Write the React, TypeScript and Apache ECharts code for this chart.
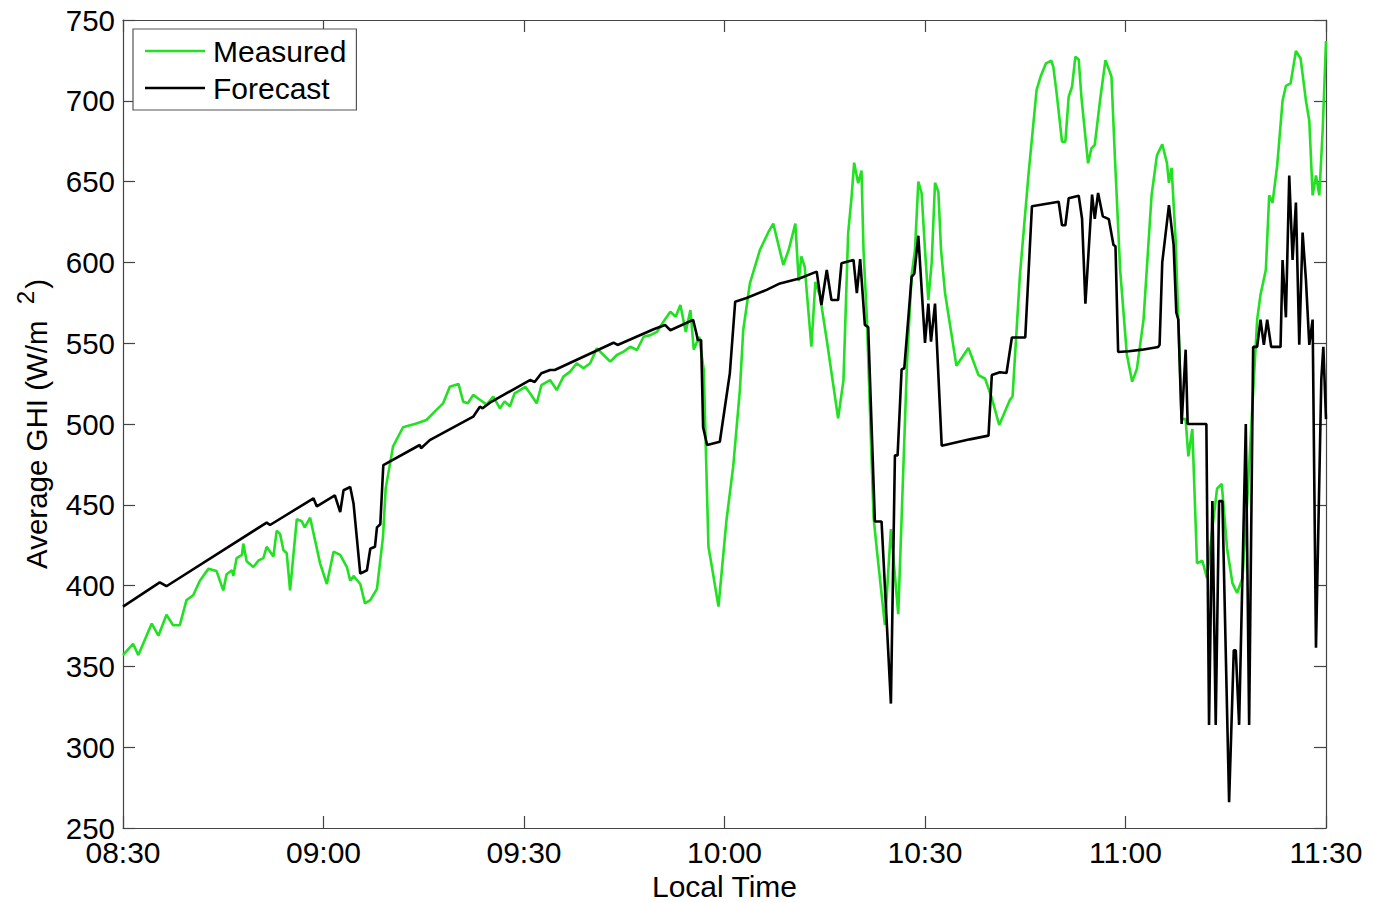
import React, { useEffect, useRef } from "react";
import * as echarts from "echarts";

// minutes after 08:30
const measuredTime = [
  0, 1.5, 2.3, 4.3, 5.3, 6.5, 7.5, 8.5, 9.5, 10.5, 11.5, 12.8, 14, 15, 15.5, 16.3, 16.5, 17, 17.8, 18,
  18.5, 19.5, 20.3, 21, 21.5, 22.5, 23, 23.5, 24, 24.5, 25, 26, 26.7, 27.2, 28, 29.5, 30.5, 31.5, 32.5, 33.5,
  34, 34.5, 35.5, 36.2, 37, 38, 38.9, 39.3, 40.4, 41.9, 43.9, 45.4, 46.9, 47.9, 48.9, 50.2, 50.9, 51.6, 52.4, 53.4,
  54.4, 55.4, 56.4, 57.1, 57.9, 58.6, 59.4, 60.2, 60.9, 61.9, 62.6, 63.9, 64.9, 65.9, 66.9, 67.9, 68.9, 69.9, 70.9, 71.9,
  72.9, 73.9, 74.9, 75.9, 76.9, 77.9, 78.9, 79.9, 80.7, 81.9, 82.7, 83.4, 84.2, 84.9, 85.4, 86.2, 86.9, 87.3, 87.6, 88.1,
  89.1, 90.3, 91.3, 92.3, 92.8, 93.8, 95.3, 96.6, 97.3, 98.8, 99.6, 100.6, 101.1, 101.5, 102, 103, 103.6, 104.3, 105.3, 107,
  107.8, 108.5, 109.0, 109.4, 110.0, 110.5, 110.8, 111.3, 112.3, 112.8, 114.0, 114.9, 116.0, 117.3, 118.0, 118.5, 119.0, 119.5, 120.0, 120.5,
  121.0, 121.5, 122.0, 122.4, 123.0, 124.7, 126.5, 128.0, 129.0, 130.0, 131.1, 132.7, 133.1, 134.2, 135.5, 136.7, 137.3, 138.1, 138.9, 139.2,
  139.7, 140.5, 141.0, 141.5, 142.0, 142.5, 143.0, 143.4, 144.4, 144.9, 145.4, 146.2, 147.0, 147.9, 148.4, 149.2, 150.2, 151.0, 151.7, 152.7,
  153.9, 154.7, 155.5, 156.2, 156.5, 156.9, 157.5, 158.4, 159.0, 159.4, 160.0, 160.7, 161.5, 162.2, 163.0, 163.7, 164.4, 165.2, 166.0, 166.7,
  167.5, 168.2, 169.0, 169.7, 170.2, 171.0, 171.5, 172.0, 172.7, 173.5, 174.0, 174.7, 175.5, 176.2, 177.0, 177.5, 178.0, 178.5, 179.0, 179.5,
  180,
];
const measuredValue = [
  357, 364, 357, 376.5, 369, 382, 375.5, 375.5, 391, 394, 403, 410.5, 409, 397, 407, 409.5, 406, 417, 419, 426,
  415, 411.5, 415.6, 417, 424, 418, 434, 432, 422, 420, 397, 441, 440, 436, 442, 413.6, 401, 421, 419, 411.5,
  403, 406, 401, 389, 391, 398, 430, 460, 486, 498, 500.3, 502.5, 508.7, 512.8, 523, 524.8, 513.8, 512.8, 518, 515,
  512, 517, 509.7, 514, 511, 519, 521, 523, 519, 512.8, 524, 527.2, 521, 529.3, 532.4, 537.6, 534.5, 537.6, 546.8, 542.7,
  538.6, 542.7, 544.8, 547.8, 545.8, 554, 555, 557, 562.3, 569.5, 566.4, 573.6, 557, 570.5, 546, 554, 533.4, 470, 424, 412,
  387, 440.6, 473.6, 521, 558, 587, 607.7, 619, 624, 598.4, 607.7, 624, 588.6, 603.7, 597.3, 547.8, 588, 579, 552, 503.5,
  527, 618, 640, 661.7, 649, 656.8, 607.7, 565.6, 442.6, 422, 375.6, 435, 382.3, 537, 592, 607.7, 650, 642.8, 607.7, 576.7,
  600, 649.3, 643.8, 607.7, 581, 536, 547, 530.3, 528, 516, 499.4, 514.9, 517, 592, 655, 706.7, 715, 723.2, 724.8, 721,
  704.6, 674.7, 674.7, 702.5, 708.7, 727.3, 725.6, 702.5, 661.3, 670.6, 672.7, 700.5, 725.2, 715, 666.2, 595.4, 543, 526.2, 534, 564.6,
  641.5, 666.2, 673, 661.5, 649.2, 658.5, 613.8, 503, 503, 480, 496.9, 413.8, 415.4, 404.6, 435.4, 460, 463, 423, 401.5, 395.4,
  404.6, 450.8, 512.3, 564.6, 580, 595.4, 641.5, 636.9, 660, 700, 709.2, 710.8, 730.8, 726.2, 700, 687.7, 641.5, 653.8, 641.5, 681.5,
  737,
];

const forecastTime = [
  0, 5.5, 6.5, 21.5, 22, 28.5, 29, 31.7, 32.5, 33, 34, 34.5, 35.5, 36.5, 37, 37.7, 38, 38.5, 38.95, 44.4,
  44.6, 45.9, 52.4, 53.4, 53.8, 54.9, 60.9, 61.6, 62.6, 63.9, 64.6, 73.4, 74, 79.4, 81.1, 81.9, 85.3, 85.8, 86, 86.5,
  86.8, 87.4, 89.3, 90.8, 91.6, 93.3, 96.3, 98.3, 101.2, 103.8, 104.5, 105.3, 106, 107, 107.5, 109.3, 109.8, 110.3, 111.0, 111.5,
  112.5, 113.5, 114.9, 115.5, 115.9, 116.5, 116.9, 118.0, 118.4, 119.0, 120.0, 120.5, 120.9, 121.5, 122.5, 126.7, 129.5, 130.0, 131.2, 132.2,
  133.0, 135.0, 136.0, 140.0, 140.5, 141.0, 141.5, 143.0, 143.5, 144.0, 145.0, 145.4, 145.9, 146.6, 147.5, 148.2, 148.5, 148.9, 150.5, 152.5,
  154.9, 155.1, 155.5, 156.5, 157.2, 157.6, 157.9, 158.4, 159.0, 159.3, 162.1, 162.5, 163.0, 163.5, 164.0, 164.5, 165.5, 166.2, 166.5, 167.0,
  168.0, 168.5, 169.1, 169.7, 170.2, 170.7, 171.2, 171.8, 173.2, 173.5, 174.0, 174.5, 175.0, 175.5, 176.0, 176.5, 177.0, 177.5, 178.0, 178.5,
  179.3, 179.6, 180,
];
const forecastValue = [
  387, 402, 399.6, 439, 437.5, 454, 449, 455.8, 445.5, 459, 461, 450.6, 407.4, 409.5, 422.8, 424, 436, 438, 474.6, 487,
  485, 490, 504.5, 510.7, 509.7, 513.2, 527.2, 526, 531.4, 533.4, 533.4, 550.3, 548.9, 558.6, 561.3, 558, 564.4, 556, 552, 552,
  498, 487, 489, 531.4, 575.7, 578, 583, 587, 590, 594.3, 573.6, 595.3, 576.7, 576.7, 599.4, 601.5, 581, 602, 561.3, 560,
  439.7, 439.7, 327, 480.6, 480.6, 533.7, 534.5, 591, 593, 616.5, 550.2, 574.5, 551, 574.5, 486.6, 490.5, 492.8, 530.3, 532, 531.6,
  553.5, 553.5, 634.7, 637.5, 623, 623, 639.7, 641.3, 627, 574.5, 642, 627, 643, 628.5, 626.8, 610.8, 610, 544.6, 545, 546,
  547.7, 549, 600, 635.4, 610.8, 569, 564.6, 500, 546, 500, 500, 313.8, 452.3, 313.8, 452.3, 452.3, 266, 360, 360, 313.8,
  500, 313.8, 547.7, 547.7, 564.6, 549, 564.6, 547.7, 547.7, 601.5, 566, 653.8, 601.5, 637, 549, 618.5, 589, 549, 564.6, 361.5,
  527.7, 547.7, 503,
];

const xTickMinutes = [0, 30, 60, 90, 120, 150, 180];
const xTickLabels = ["08:30", "09:00", "09:30", "10:00", "10:30", "11:00", "11:30"];
const seriesNames = ["Measured", "Forecast"];

const FONT = "'Liberation Sans', Arial, Helvetica, sans-serif";

export default function App() {
  const ref = useRef<HTMLDivElement>(null);
  useEffect(() => {
    if (!ref.current) return;
    const chart = echarts.init(ref.current, undefined, { renderer: "svg" });
    const measured = measuredTime.map((t, i) => [t, measuredValue[i]]);
    const forecast = forecastTime.map((t, i) => [t, forecastValue[i]]);
    const axisColor = "#444";
    const fmt = (v: number) => {
      const idx = xTickMinutes.indexOf(v);
      return idx >= 0 ? xTickLabels[idx] : "";
    };
    const xBase = {
      type: "value" as const,
      min: 0,
      max: 180,
      interval: 30,
      splitLine: { show: false },
      axisLine: { show: true, onZero: false, lineStyle: { color: axisColor, width: 1.2 } },
      axisTick: { show: true, inside: true, length: 12, lineStyle: { color: axisColor, width: 1.2 } },
    };
    const yBase = {
      type: "value" as const,
      min: 250,
      max: 750,
      interval: 50,
      splitLine: { show: false },
      axisLine: { show: true, onZero: false, lineStyle: { color: axisColor, width: 1.2 } },
      axisTick: { show: true, inside: true, length: 12, lineStyle: { color: axisColor, width: 1.2 } },
    };
    chart.setOption({
      animation: false,
      backgroundColor: "#fff",
      textStyle: { fontFamily: FONT },
      grid: { left: 123, right: 47, top: 20, bottom: 74, containLabel: false, outerBoundsMode: "none" },
      legend: {
        show: true,
        data: seriesNames,
        orient: "vertical",
        left: 133,
        top: 29,
        icon: "rect",
        backgroundColor: "#fff",
        borderColor: "#555",
        borderWidth: 1.2,
        borderRadius: 0,
        padding: [7, 10, 7, 12],
        itemWidth: 60,
        itemHeight: 2.6,
        itemGap: 7,
        textStyle: { fontSize: 30, lineHeight: 30, color: "#000", fontFamily: FONT, padding: [0, 0, 0, 3] },
      },
      xAxis: [
        {
          ...xBase,
          position: "bottom",
          name: "Local Time",
          nameLocation: "middle",
          nameGap: 38,
          nameTextStyle: { fontSize: 30, color: "#000", fontFamily: FONT },
          axisLabel: { show: true, fontSize: 30, color: "#000", margin: 9, fontFamily: FONT, formatter: fmt },
        },
        { ...xBase, position: "top", axisLabel: { show: false } },
      ],
      yAxis: [
        {
          ...yBase,
          position: "left",
          name: "{a|Average GHI (W/m }{b|2}{a|)}",
          nameLocation: "middle",
          nameGap: 72,
          nameRotate: 90,
          nameTextStyle: {
            color: "#000",
            fontFamily: FONT,
            rich: {
              a: { fontSize: 29.5, color: "#000", fontFamily: FONT, lineHeight: 38, verticalAlign: "bottom" },
              b: { fontSize: 24, color: "#000", fontFamily: FONT, lineHeight: 38, verticalAlign: "top", padding: [0, 2, 0, 8] },
            },
          },
          axisLabel: { show: true, fontSize: 29.5, color: "#000", margin: 8, fontFamily: FONT },
        },
        { ...yBase, position: "right", axisLabel: { show: false } },
      ],
      series: [
        {
          name: seriesNames[0],
          type: "line",
          data: measured,
          xAxisIndex: 0,
          yAxisIndex: 0,
          symbol: "none",
          showSymbol: false,
          lineStyle: { color: "#22e022", width: 2.6 },
          itemStyle: { color: "#22e022" },
          z: 2,
        },
        {
          name: seriesNames[1],
          type: "line",
          data: forecast,
          xAxisIndex: 0,
          yAxisIndex: 0,
          symbol: "none",
          showSymbol: false,
          lineStyle: { color: "#000", width: 2.6 },
          itemStyle: { color: "#000" },
          z: 3,
        },
      ],
    });
    return () => chart.dispose();
  }, []);
  return (
    <div
      ref={ref}
      style={{ position: "fixed", left: 0, top: 0, width: "1373px", height: "902px", background: "#fff" }}
    />
  );
}
